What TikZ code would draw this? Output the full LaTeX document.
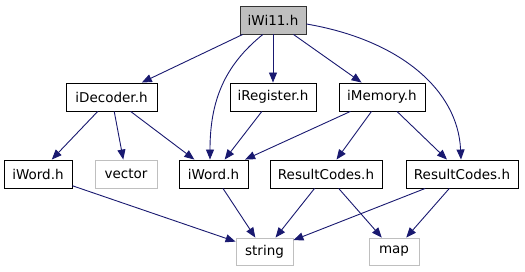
\documentclass[tikz,border=0pt]{standalone}
\usepackage{fontspec}
\setmainfont{DejaVu Sans}
\usetikzlibrary{arrows.meta}
\definecolor{edgeblue}{HTML}{191970}
\definecolor{extgray}{HTML}{BFBFBF}
\tikzset{
  filebox/.style={draw=black, line width=0.9pt, rectangle, minimum height=28pt,
    inner sep=0pt, font=\fontsize{13.5}{15}\selectfont, fill=white},
  extbox/.style={filebox, draw=extgray},
  rootbox/.style={filebox, fill=extgray, draw=black!80},
  dep/.style={draw=edgeblue, line width=0.9pt,
    -{Triangle[length=10pt,width=8pt]}},
}
\begin{document}
\begin{tikzpicture}[x=1pt,y=-1pt]
\useasboundingbox (0,0) rectangle (525,272);
% headers
\node[rootbox, minimum width=66pt]  (top)   at (273,20)   {iWi11.h};
\node[filebox, minimum width=91pt]  (dec)   at (111.5,97) {iDecoder.h};
\node[filebox, minimum width=86pt]  (reg)   at (273,97)   {iRegister.h};
\node[filebox, minimum width=86pt]  (mem)   at (382,97)   {iMemory.h};
\node[filebox, minimum width=68pt]  (wordL) at (38,174)   {iWord.h};
\node[extbox,  minimum width=62pt]  (vec)   at (126,174)  {vector};
\node[filebox, minimum width=69pt]  (wordM) at (213.5,174){iWord.h};
\node[filebox, minimum width=112pt] (rcA)   at (326,174)  {ResultCodes.h};
\node[filebox, minimum width=112pt] (rcB)   at (462,174)  {ResultCodes.h};
\node[extbox,  minimum width=57pt, minimum height=27pt] (str) at (264.5,251.5) {string};
\node[extbox,  minimum width=50pt, minimum height=27pt] (map) at (394,251.5)   {map};
% include edges
\draw[dep] (top) -- (dec);
\draw[dep] (top) -- (reg);
\draw[dep] (top) -- (mem);
\draw[dep] (top.-125) .. controls (225,65) and (210,100) .. (wordM.north -| 210,0);
\draw[dep] (top.east) ++(0,4) .. controls (400,40) and (458,90) .. (rcB.north -| 461,0);
\draw[dep] (dec) -- (wordL);
\draw[dep] (dec) -- (vec);
\draw[dep] (dec) -- (wordM);
\draw[dep] (reg) -- (wordM);
\draw[dep] (mem) -- (wordM);
\draw[dep] (mem) -- (rcA);
\draw[dep] (mem) -- (rcB);
\draw[dep] (wordL) -- (str);
\draw[dep] (wordM) -- (str);
\draw[dep] (rcA) -- (str);
\draw[dep] (rcA) -- (map);
\draw[dep] (rcB) -- (str);
\draw[dep] (rcB) -- (map);
\end{tikzpicture}
\end{document}
